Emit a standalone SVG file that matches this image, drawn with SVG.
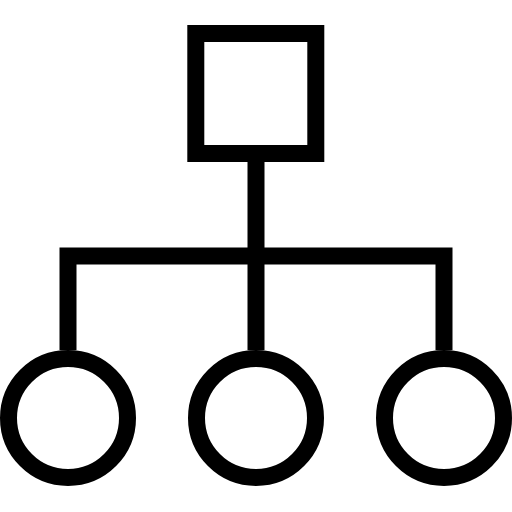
<svg xmlns="http://www.w3.org/2000/svg" width="512" height="512" viewBox="0 0 512 512">
<style>
.s{fill:none;stroke:#000;stroke-width:17}
</style>
<rect width="512" height="512" fill="#fff"/>
<g id="connectors">
<path class="s" d="M256 162V350M68 350V256H444V350" stroke-linejoin="miter"/>
</g>
<g id="root"><rect class="s" x="195.8" y="33.5" width="120" height="120"/></g>
<g id="child1"><circle class="s" cx="68" cy="418" r="59.5"/></g>
<g id="child2"><circle class="s" cx="256" cy="418" r="59.5"/></g>
<g id="child3"><circle class="s" cx="444" cy="418" r="59.5"/></g>
</svg>
